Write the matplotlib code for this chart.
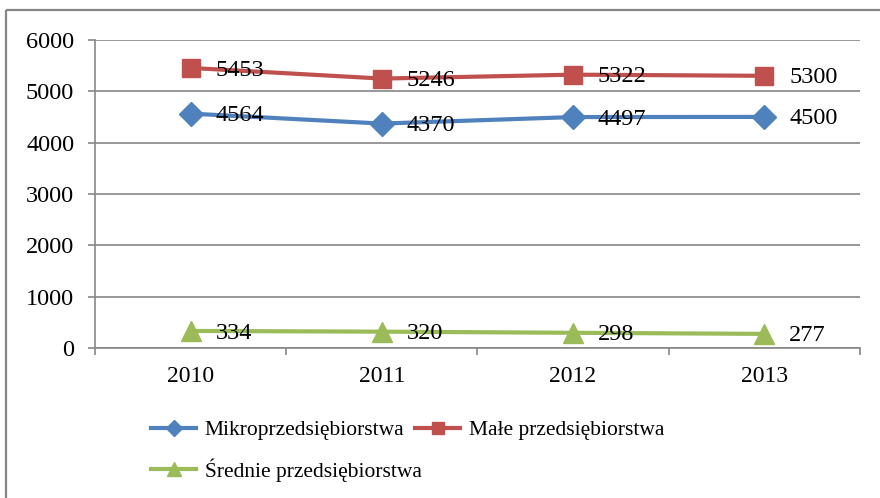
import matplotlib.pyplot as plt
from matplotlib.lines import Line2D
from matplotlib.patches import Rectangle

plt.rcParams['font.family'] = ['Liberation Serif', 'DejaVu Serif']
plt.rcParams['font.size'] = 17

years = ['2010', '2011', '2012', '2013']
mikro = [4564, 4370, 4497, 4500]
male = [5453, 5246, 5322, 5300]
srednie = [334, 320, 298, 277]

names = ['Mikroprzedsiębiorstwa', 'Małe przedsiębiorstwa', 'Średnie przedsiębiorstwa']
colors = ['#4F81BD', '#C0504D', '#9BBB59']
markers = ['D', 's', '^']
msizes = [12, 13, 14]

fig = plt.figure(figsize=(8.8, 4.98), dpi=100)
ax = fig.add_axes([0.108, 0.301, 0.869, 0.619])

# outer frame (only top and left visible in the crop)
fig.patches.append(Rectangle((6 / 880, 1 - 10 / 498), 2, -2, transform=fig.transFigure,
                             fill=False, edgecolor='#868686', linewidth=1.6))

x = list(range(len(years)))
for vals, c, m, ms in zip([mikro, male, srednie], colors, markers, msizes):
    ax.plot(x, vals, color=c, linewidth=3, marker=m, markersize=ms, zorder=3)
    for xi, v in zip(x, vals):
        ax.annotate(str(v), (xi, v), xytext=(18, -1.5), textcoords='offset points',
                    ha='left', va='center', fontsize=17.5, zorder=4)

ax.set_xlim(-0.5, 3.5)
ax.set_ylim(0, 6000)
ax.set_yticks(range(0, 6001, 1000))
ax.set_xticks(x)
ax.set_xticklabels(years)
ax.set_xticks([-0.5, 0.5, 1.5, 2.5, 3.5], minor=True)
ax.tick_params(axis='x', which='major', length=0, pad=13, labelsize=17)
ax.tick_params(axis='x', which='minor', length=5, width=1.2, color='#868686')
ax.tick_params(axis='y', length=5, width=1.2, color='#868686', pad=10, labelsize=17.5)

ax.yaxis.grid(True, color='#868686', linewidth=1.2)
ax.set_axisbelow(True)
for s in ['top', 'right']:
    ax.spines[s].set_visible(False)
for s in ['left', 'bottom']:
    ax.spines[s].set_color('#868686')
    ax.spines[s].set_linewidth(1.2)

handles = [Line2D([], [], color=c, linewidth=3, marker=m, markersize=ms * 0.7)
           for c, m, ms in zip(colors, markers, msizes)]
order = [0, 2, 1]
fig.legend([handles[i] for i in order], [names[i] for i in order],
           loc='upper left', bbox_to_anchor=(151 / 880, 1 - 420 / 498),
           ncol=2, frameon=False, borderpad=0, borderaxespad=0,
           handlelength=2.1, handletextpad=0.4, columnspacing=-0.3,
           labelspacing=0.85, fontsize=15.5)

fig.savefig('out.png', dpi=100)
